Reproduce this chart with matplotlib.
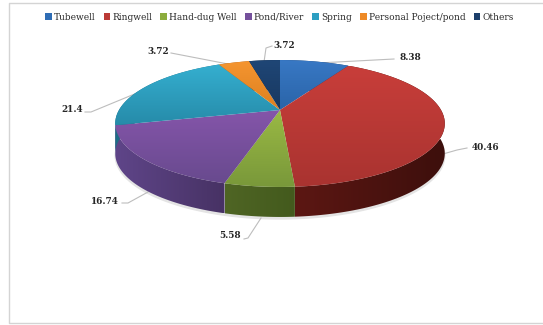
import numpy as np
import matplotlib
matplotlib.use('Agg')
import matplotlib.pyplot as plt
from matplotlib.patches import Polygon, Patch
from matplotlib.colors import to_rgb

categories = ['Tubewell', 'Ringwell', 'Hand-dug Well', 'Pond/River', 'Spring', 'Personal Poject/pond', 'Others']
values = [8.38, 40.46, 5.58, 16.74, 21.4, 3.72, 3.72]

colors = ['#2f6db5', '#bb3a36', '#8cac3d', '#75509c', '#2d9fc2', '#ee8a26', '#1c3f6b']
top_light = ['#3878c4', '#c83e3a', '#9ab944', '#8555aa', '#35afd0', '#f59530', '#1f4676']
top_dark = ['#2a64a8', '#a93330', '#79983a', '#684a8e', '#268ba9', '#dd8020', '#183860']
side_left = ['#1c3f6b', '#5c1713', '#4f6524', '#5f4589', '#1d6d85', '#a85c14', '#10263f']
side_right = ['#1c3f6b', '#3d0f0c', '#435a1d', '#473264', '#1d6d85', '#a85c14', '#10263f']

# label centre, leader line points from the label side towards the pie
label_pos = [(410, 58), (486, 147), (230, 236), (105, 201), (72, 110), (158, 51), (284, 46)]
leaders = [[(394, 59), (318, 63)],
           [(467, 148), (457, 150), (443, 154)],
           [(244, 239), (248, 238), (261, 218)],
           [(122, 203), (128, 203), (148, 192)],
           [(85, 112), (91, 112), (137, 93)],
           [(171, 53), (228, 64)],
           [(272, 46), (266, 48), (264, 62)]]

W, H = 543, 325
CX, CY = 280, 110
A, B, K = 60.6, 161, 0.2126
DEPTH = 30


def project(deg):
    # clockwise from the top of the pie, tilted in perspective
    t = np.radians(deg)
    d = 1 + K * np.cos(t)
    return CX + B * np.sin(t) / d, CY - A * np.cos(t) / d


def gradient_fill(ax, pts, c0, c1, horizontal, zorder):
    patch = Polygon(pts, closed=True, facecolor='none', edgecolor='none', zorder=zorder)
    ax.add_patch(patch)
    ramp = np.linspace(0, 1, 256)[:, None, None]
    img = (1 - ramp) * np.array(to_rgb(c0)) + ramp * np.array(to_rgb(c1))
    if horizontal:
        img = img.transpose(1, 0, 2)
    xs, ys = pts[:, 0], pts[:, 1]
    im = ax.imshow(img, extent=(xs.min(), xs.max(), ys.max(), ys.min()), aspect='auto',
                   zorder=zorder, interpolation='bilinear')
    im.set_clip_path(patch)


fig = plt.figure(figsize=(W / 100, H / 100), dpi=100)
ax = fig.add_axes([0, 0, 1, 1])
ax.set_axis_off()

# chart frame
ax.plot([W, 9, 9, W], [3, 3, 323, 323], color='#d4d4d4', lw=1.0, zorder=1)

edges = np.concatenate([[0], np.cumsum(values)]) * 3.6

# soft shadow under the side wall
t = np.linspace(90, 270, 200)
sx, sy = project(t)
ax.fill(sx, sy + DEPTH + 2, color='#e4e4e4', zorder=2)

for i in range(len(values)):
    t = np.linspace(edges[i], edges[i + 1], 120)
    x, y = project(t)
    pts = np.column_stack([np.r_[x, x[::-1]], np.r_[y, (y + DEPTH)[::-1]]])
    # left side of the picture is lighter on the wall
    gradient_fill(ax, pts, side_left[i], side_right[i], True, 3 + i * 0.01)

for i in range(len(values)):
    t = np.linspace(edges[i], edges[i + 1], 120)
    x, y = project(t)
    pts = np.column_stack([np.r_[CX, x], np.r_[CY, y]])
    gradient_fill(ax, pts, top_light[i], top_dark[i], False, 4 + i * 0.01)

for i, v in enumerate(values):
    px, py = zip(*leaders[i])
    ax.plot(px, py, color='#bdbdbd', lw=0.8, zorder=2.5)
    ax.text(label_pos[i][0], label_pos[i][1], str(v), family='DejaVu Serif', fontweight='bold',
            fontsize=6.4, color='#262626', ha='center', va='center', zorder=6)

handles = [Patch(facecolor=c, edgecolor='none') for c in colors]
fig.legend(handles, categories, ncol=7, loc='center', bbox_to_anchor=(279.5 / W, 1 - 17 / H),
           frameon=False, handlelength=0.75, handleheight=0.75, handletextpad=0.25,
           columnspacing=0.88, borderpad=0, prop={'family': 'DejaVu Serif', 'size': 6.5},
           labelcolor='#2a2a2a')

ax.set_xlim(0, W)
ax.set_ylim(H, 0)
fig.savefig('out.png', dpi=100)
